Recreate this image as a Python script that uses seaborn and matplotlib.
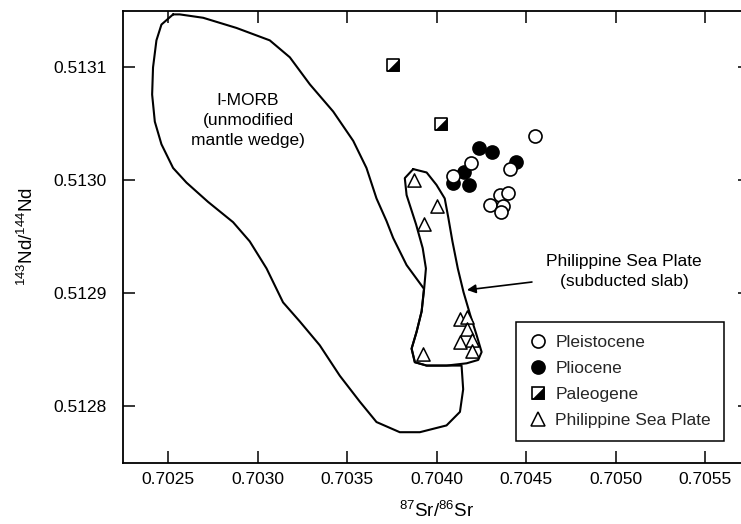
import matplotlib
matplotlib.use("Agg")
import matplotlib.pyplot as plt
import seaborn as sns
import numpy as np
from matplotlib.lines import Line2D
from matplotlib.legend_handler import HandlerTuple
from matplotlib.ticker import FixedLocator, FixedFormatter

# ---------------- data ----------------
pleist_sr = [0.704549, 0.704189, 0.704089, 0.704409, 0.704353, 0.704396, 0.704297, 0.704368, 0.704359]
pleist_nd = [0.513039, 0.513015, 0.513004, 0.513010, 0.512987, 0.512989, 0.512978, 0.512977, 0.512972]

plio_sr = [0.704236, 0.704310, 0.704442, 0.704154, 0.704092, 0.704182]
plio_nd = [0.513029, 0.513025, 0.513016, 0.513007, 0.512998, 0.512996]

paleo_sr = [0.703757, 0.704022]
paleo_nd = [0.513102, 0.513050]

psp_sr = [0.703873, 0.704004, 0.703929, 0.703921, 0.704130, 0.704169, 0.704167, 0.704130, 0.704198, 0.704198]
psp_nd = [0.513000, 0.512977, 0.512961, 0.512846, 0.512877, 0.512879, 0.512868, 0.512857, 0.512859, 0.512849]

# I-MORB field outline
morb_sr = [0.702528, 0.702565, 0.702696, 0.702882, 0.703068, 0.703180, 0.703292, 0.703422, 0.703534,
           0.703608, 0.703664, 0.703720, 0.703757, 0.703832, 0.703929, 0.703916, 0.703888, 0.703860,
           0.703878, 0.703944, 0.704055, 0.704139, 0.704148, 0.704130, 0.704055, 0.703906, 0.703794,
           0.703664, 0.703571, 0.703459, 0.703347, 0.703236, 0.703142, 0.703050, 0.702956, 0.702863,
           0.702723, 0.702603, 0.702528, 0.702463, 0.702426, 0.702411, 0.702416, 0.702435, 0.702463,
           0.702528]
morb_nd = [0.513147, 0.513147, 0.513144, 0.513135, 0.513124, 0.513109, 0.513085, 0.513061, 0.513035,
           0.513011, 0.512984, 0.512964, 0.512949, 0.512925, 0.512904, 0.512884, 0.512866, 0.512851,
           0.512839, 0.512836, 0.512836, 0.512836, 0.512815, 0.512795, 0.512783, 0.512777, 0.512777,
           0.512786, 0.512804, 0.512827, 0.512854, 0.512875, 0.512892, 0.512922, 0.512946, 0.512963,
           0.512981, 0.512998, 0.513011, 0.513032, 0.513052, 0.513076, 0.513100, 0.513124, 0.513138,
           0.513147]

# Philippine Sea Plate field outline
pspf_sr = [0.703869, 0.703944, 0.703999, 0.704045, 0.704065, 0.704088, 0.704118, 0.704150, 0.704187,
           0.704223, 0.704251, 0.704232, 0.704167, 0.704055, 0.703944, 0.703878, 0.703860, 0.703888,
           0.703916, 0.703930, 0.703940, 0.703922, 0.703885, 0.703832, 0.703822, 0.703869]
pspf_nd = [0.513010, 0.513007, 0.512996, 0.512984, 0.512967, 0.512946, 0.512922, 0.512901, 0.512881,
           0.512863, 0.512848, 0.512841, 0.512838, 0.512836, 0.512836, 0.512839, 0.512851, 0.512866,
           0.512884, 0.512904, 0.512922, 0.512940, 0.512961, 0.512987, 0.513002, 0.513010]

x_ticks = [0.7025, 0.7030, 0.7035, 0.7040, 0.7045, 0.7050, 0.7055]
x_tick_labels = ["0.7025", "0.7030", "0.7035", "0.7040", "0.7045", "0.7050", "0.7055"]
y_ticks = [0.5128, 0.5129, 0.5130, 0.5131]
y_tick_labels = ["0.5128", "0.5129", "0.5130", "0.5131"]

legend_labels = ["Pleistocene", "Pliocene", "Paleogene", "Philippine Sea Plate"]

# ---------------- style ----------------
sns.set_theme(style="ticks")
plt.rcParams['font.family'] = ['Liberation Sans', 'DejaVu Sans']
plt.rcParams['mathtext.fontset'] = 'custom'
plt.rcParams['mathtext.rm'] = 'Liberation Sans'
plt.rcParams['mathtext.it'] = 'Liberation Sans:italic'
plt.rcParams['mathtext.bf'] = 'Liberation Sans:bold'

FS = 12.5
fig = plt.figure(figsize=(7.41, 5.24), dpi=100)
ax = fig.add_axes([0.1664, 0.117, 0.8458, 0.862])

# fields
ax.plot(morb_sr, morb_nd, color='black', lw=1.5, zorder=2)
ax.plot(pspf_sr, pspf_nd, color='black', lw=1.5, zorder=2)

# half-filled marker (lower-right triangle)
half_tri = np.array([[-1, -1], [1, -1], [1, 1], [-1, -1]])

sns.scatterplot(x=plio_sr, y=plio_nd, ax=ax, marker='o', s=88, color='black',
                edgecolor='black', linewidth=1.2, legend=False, zorder=3)
sns.scatterplot(x=pleist_sr, y=pleist_nd, ax=ax, marker='o', s=88, color='white',
                edgecolor='black', linewidth=1.2, legend=False, zorder=4)
sns.scatterplot(x=paleo_sr, y=paleo_nd, ax=ax, marker='s', s=81, color='white',
                edgecolor='black', linewidth=1.2, legend=False, zorder=3)
sns.scatterplot(x=paleo_sr, y=paleo_nd, ax=ax, marker=half_tri, s=81, color='black',
                edgecolor='black', linewidth=0.3, legend=False, zorder=4)
sns.scatterplot(x=psp_sr, y=psp_nd, ax=ax, marker='^', s=90, color='white',
                edgecolor='black', linewidth=1.1, legend=False, zorder=3)

# annotations
ax.text(0.702947, 0.513053, "I-MORB\n(unmodified\nmantle wedge)", ha='center', va='center',
        fontsize=FS, linespacing=1.4, color='black')
ax.text(0.705046, 0.512919, "Philippine Sea Plate\n(subducted slab)", ha='center', va='center',
        fontsize=FS, linespacing=1.4, color='black')
ax.annotate("", xy=(0.704169, 0.512903), xytext=(0.704532, 0.512910),
            arrowprops=dict(arrowstyle='-|>', color='black', lw=1.2, mutation_scale=13,
                            shrinkA=0, shrinkB=0))

# axes
ax.set_xlim(0.70225, 0.70575)
ax.set_ylim(0.51275, 0.51315)
ax.xaxis.set_major_locator(FixedLocator(x_ticks))
ax.xaxis.set_major_formatter(FixedFormatter(x_tick_labels))
ax.yaxis.set_major_locator(FixedLocator(y_ticks))
ax.yaxis.set_major_formatter(FixedFormatter(y_tick_labels))
ax.tick_params(direction='in', length=8.6, width=1.1, top=True, right=True,
               labelsize=FS, pad=7, colors='black')
ax.tick_params(axis='y', pad=12)
for sp in ax.spines.values():
    sp.set_visible(True)
    sp.set_color('black')
    sp.set_linewidth(1.3)
ax.set_xlabel('$^{87}$Sr/$^{86}$Sr', fontsize=FS + 1, color='black', labelpad=10)
ax.set_ylabel('$^{143}$Nd/$^{144}$Nd', fontsize=FS + 1, color='black', labelpad=12)
ax.set_facecolor('white')

# legend
h1 = Line2D([], [], ls='', marker='o', ms=9.4, mfc='white', mec='black', mew=1.2)
h2 = Line2D([], [], ls='', marker='o', ms=9.4, mfc='black', mec='black', mew=1.2)
h3a = Line2D([], [], ls='', marker='s', ms=9, mfc='white', mec='black', mew=1.2)
h3b = Line2D([], [], ls='', marker=half_tri, ms=9, mfc='black', mec='black', mew=0.3)
h4 = Line2D([], [], ls='', marker='^', ms=9.5, mfc='white', mec='black', mew=1.1)
leg = ax.legend([h1, h2, (h3a, h3b), h4], legend_labels,
                handler_map={tuple: HandlerTuple(ndivide=1)},
                loc='upper right', bbox_to_anchor=(0.9585, 0.3115), borderaxespad=0,
                fontsize=FS, frameon=True, fancybox=False, framealpha=1,
                edgecolor='black', handlelength=1.0, handletextpad=0.5,
                labelspacing=0.62, borderpad=0.75)
leg.get_frame().set_linewidth(1.1)

fig.savefig("out.png", dpi=100, facecolor='white')
